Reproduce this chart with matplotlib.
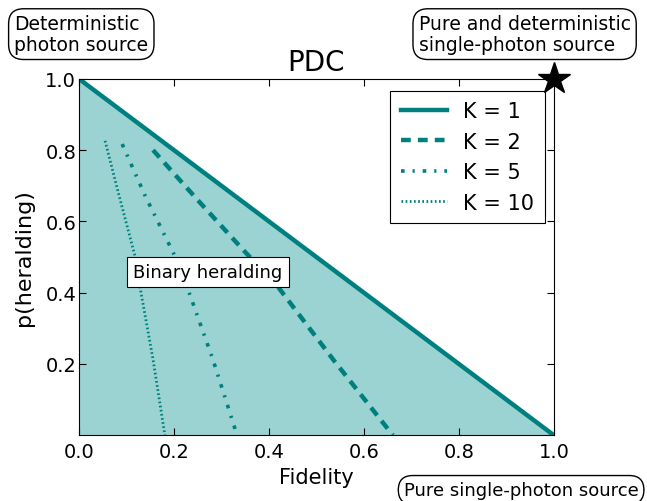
import matplotlib
matplotlib.use("Agg")
import matplotlib.pyplot as plt

# Data
k1_f = [0.0, 1.0]
k1_p = [1.0, 0.0]
k2_f = [0.156, 0.25, 0.35, 0.417, 0.535, 0.661]
k2_p = [0.80, 0.66, 0.514, 0.42, 0.213, 0.0]
k5_f = [0.091, 0.14, 0.202, 0.227, 0.282, 0.333]
k5_p = [0.817, 0.67, 0.503, 0.419, 0.213, 0.0]
k10_f = [0.055, 0.085, 0.118, 0.128, 0.156, 0.181]
k10_p = [0.826, 0.67, 0.503, 0.42, 0.213, 0.0]
labels = ["K = 1", "K = 2", "K = 5", "K = 10"]
xticks = [0.0, 0.2, 0.4, 0.6, 0.8, 1.0]
yticks = [0.2, 0.4, 0.6, 0.8, 1.0]

teal = "#007f7f"
fill = "#9ad3d2"

fig = plt.figure(figsize=(6.47, 5.02), dpi=100)
ax = fig.add_axes([0.122, 0.131, 0.734, 0.710])

ax.fill_between(k1_f, k1_p, 0, color=fill, linewidth=0)
ax.plot(k1_f, k1_p, color=teal, lw=3.2, ls="-", label=labels[0])
ax.plot(k2_f, k2_p, color=teal, lw=3.2, ls=(0, (2.2, 1.6)), label=labels[1])
ax.plot(k5_f, k5_p, color=teal, lw=2.6, ls=(0, (1, 2.2, 0.6, 2.2)), label=labels[2])
ax.plot(k10_f, k10_p, color=teal, lw=2.0, ls=(0, (0.6, 0.9)), label=labels[3])

ax.plot([1.0], [1.0], marker="*", color="black", markersize=24, clip_on=False, zorder=10)

ax.set_xlim(0, 1)
ax.set_ylim(0, 1)
ax.set_xticks(xticks)
ax.set_yticks(yticks)
ax.tick_params(direction="in", top=True, right=True, labelsize=14, length=5)
ax.tick_params(axis="x", pad=5)
ax.tick_params(axis="y", pad=2)
ax.set_xlabel("Fidelity", fontsize=15, labelpad=4)
ax.set_ylabel("p(heralding)", fontsize=16, labelpad=8)
ax.set_title("PDC", fontsize=20, pad=6)

leg = ax.legend(loc="upper right", fontsize=15, fancybox=False, framealpha=1,
                edgecolor="black", handlelength=2.2, borderpad=0.5, labelspacing=0.5,
                handletextpad=0.8, borderaxespad=0, bbox_to_anchor=(0.981, 0.966))
leg.get_frame().set_linewidth(0.8)

ax.text(0.272, 0.458, "Binary heralding", fontsize=13, ha="center", va="center",
        bbox=dict(boxstyle="square,pad=0.35", fc="white", ec="black", lw=0.8))

rb = dict(boxstyle="round,pad=0.3,rounding_size=0.8", fc="white", ec="black", lw=1.0)
fig.text(0.022, 0.93, "Deterministic\nphoton source", fontsize=13.5, ha="left", va="center",
         linespacing=1.1, bbox=rb)
fig.text(0.647, 0.93, "Pure and deterministic\nsingle-photon source", fontsize=13.5,
         ha="left", va="center", linespacing=1.1, bbox=rb)
fig.text(0.624, 0.022, "Pure single-photon source", fontsize=13, ha="left", va="center",
         bbox=rb)

fig.savefig("out.png", dpi=100)
